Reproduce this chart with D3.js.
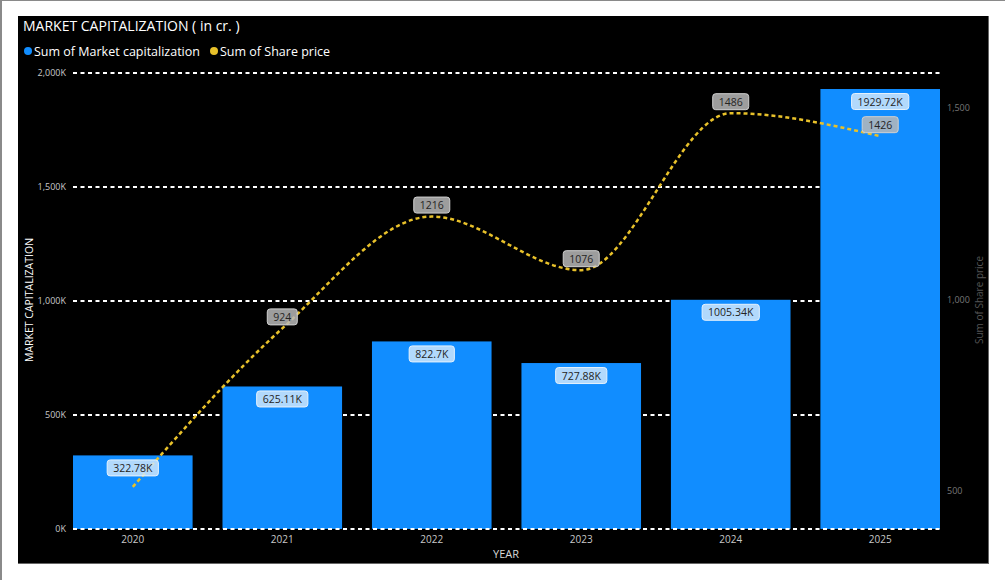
<!DOCTYPE html>
<html>
<head>
<meta charset="utf-8">
<script src="https://cdn.jsdelivr.net/npm/d3@7"></script>
<style>
  body { margin: 0; background: #fff; }
  svg { display: block; font-family: "Open Sans", "Noto Sans", sans-serif; }
</style>
</head>
<body>
<svg id="chart" width="1005" height="580"></svg>
<script>
"use strict";

// chart data
var years = ["2020", "2021", "2022", "2023", "2024", "2025"];
var marketCap = [322.78, 625.11, 822.7, 727.88, 1005.34, 1929.72]; // in K
var sharePrice = [510, 924, 1216, 1076, 1486, 1426];
var sharePriceLabelShown = [false, true, true, true, true, true];
var capTicks = [0, 500, 1000, 1500, 2000];
var priceTicks = [500, 1000, 1500];

var svg = d3.select("#chart");

// page frame
svg.append("rect").attr("x", 0).attr("y", 0).attr("width", 1005).attr("height", 580).attr("fill", "#fff");
svg.append("line").attr("x1", 1).attr("x2", 1).attr("y1", 0).attr("y2", 580).attr("stroke", "#8a8a8a").attr("stroke-width", 2);
svg.append("line").attr("x1", 0).attr("x2", 1005).attr("y1", 0.5).attr("y2", 0.5).attr("stroke", "#8a8a8a").attr("stroke-width", 1);
svg.append("rect").attr("x", 18).attr("y", 16).attr("width", 970).attr("height", 547).attr("fill", "#000");
svg.append("line").attr("x1", 988.5).attr("x2", 988.5).attr("y1", 16).attr("y2", 564).attr("stroke", "#666");
svg.append("line").attr("x1", 18).attr("x2", 989).attr("y1", 563.5).attr("y2", 563.5).attr("stroke", "#666");

// title + legend
svg.append("text")
  .attr("x", 23).attr("y", 31)
  .attr("fill", "#fff")
  .attr("font-size", 14)
  .text("MARKET CAPITALIZATION ( in cr. )");

var legend = [
  { name: "Sum of Market capitalization", color: "#118DFF", x: 28 },
  { name: "Sum of Share price", color: "#E8C12A", x: 214 }
];
legend.forEach(function(item) {
  svg.append("circle").attr("cx", item.x).attr("cy", 51).attr("r", 4).attr("fill", item.color);
  svg.append("text")
    .attr("x", item.x + 6).attr("y", 55.5)
    .attr("fill", "#fff")
    .attr("font-size", 12.5)
    .text(item.name);
});

// scales
var x = d3.scaleBand()
  .domain(years)
  .range([73, 940])
  .paddingInner(0.2)
  .paddingOuter(0);

var y = d3.scaleLinear().domain([0, 2000]).range([529, 73]);
var y2 = d3.scaleLinear().domain([400, 1591]).range([529, 73]);

var fmtK = function(v) { return d3.format(",")(v) + "K"; };

// grid
var grid = svg.append("g").attr("class", "grid");
grid.selectAll("line")
  .data(capTicks.filter(function(d) { return d > 0; }))
  .enter().append("line")
  .attr("x1", 73).attr("x2", 940)
  .attr("y1", function(d) { return y(d); })
  .attr("y2", function(d) { return y(d); })
  .attr("stroke", "#fff")
  .attr("stroke-width", 2)
  .attr("stroke-dasharray", "4,3.5");

// left axis
var leftAxis = svg.append("g")
  .attr("transform", "translate(73,0)")
  .call(d3.axisLeft(y).tickValues(capTicks).tickFormat(fmtK).tickSize(0).tickPadding(7));
leftAxis.select(".domain").remove();
leftAxis.selectAll("text").attr("fill", "#c8c8c8").attr("font-size", 9).attr("font-family", "Open Sans, sans-serif");

// right axis
var rightAxis = svg.append("g")
  .attr("transform", "translate(940,0)")
  .call(d3.axisRight(y2).tickValues(priceTicks).tickFormat(d3.format(",")).tickSize(0).tickPadding(7));
rightAxis.select(".domain").remove();
rightAxis.selectAll("text").attr("fill", "#777").attr("font-size", 9).attr("font-family", "Open Sans, sans-serif");

// bottom axis
var bottomAxis = svg.append("g")
  .attr("transform", "translate(0,529)")
  .call(d3.axisBottom(x).tickSize(0).tickPadding(7));
bottomAxis.select(".domain").remove();
bottomAxis.selectAll("text").attr("fill", "#c8c8c8").attr("font-size", 10).attr("font-family", "Open Sans, sans-serif");

// axis titles
svg.append("text")
  .attr("transform", "translate(33,300) rotate(-90)")
  .attr("text-anchor", "middle")
  .attr("fill", "#fff")
  .attr("font-size", 10.5)
  .text("MARKET CAPITALIZATION");

svg.append("text")
  .attr("x", 506).attr("y", 558)
  .attr("text-anchor", "middle")
  .attr("fill", "#d8d8d8")
  .attr("font-size", 11)
  .text("YEAR");

svg.append("text")
  .attr("transform", "translate(983,300) rotate(-90)")
  .attr("text-anchor", "middle")
  .attr("fill", "#555")
  .attr("font-size", 10)
  .text("Sum of Share price");

// bars
var bars = years.map(function(d, i) { return { year: d, value: marketCap[i] }; });
svg.append("g").selectAll("rect")
  .data(bars)
  .enter().append("rect")
  .attr("x", function(d) { return x(d.year); })
  .attr("y", function(d) { return y(d.value); })
  .attr("width", x.bandwidth())
  .attr("height", function(d) { return y(0) - y(d.value); })
  .attr("fill", "#118DFF");

// zero line on top of bars
svg.append("line")
  .attr("x1", 73).attr("x2", 940)
  .attr("y1", y(0)).attr("y2", y(0))
  .attr("stroke", "#fff")
  .attr("stroke-width", 2)
  .attr("stroke-dasharray", "4,3.5");

// data label helper
function addLabel(g, cx, cy, txt, fill, stroke) {
  var t = g.append("text")
    .attr("x", cx).attr("y", cy + 4)
    .attr("text-anchor", "middle")
    .attr("font-size", 10.5)
    .attr("fill", "#252423")
    .text(txt);
  var w = t.node().getComputedTextLength() + 12;
  g.insert("rect", function() { return t.node(); })
    .attr("x", cx - w / 2).attr("y", cy - 8)
    .attr("width", w).attr("height", 16)
    .attr("rx", 3).attr("ry", 3)
    .attr("fill", fill)
    .attr("fill-opacity", 0.85)
    .attr("stroke", stroke);
}

// line
var pts = years.map(function(d, i) { return { year: d, value: sharePrice[i], show: sharePriceLabelShown[i] }; });
var line = d3.line()
  .x(function(d) { return x(d.year) + x.bandwidth() / 2; })
  .y(function(d) { return y2(d.value); })
  .curve(d3.curveMonotoneX);

svg.append("path")
  .datum(pts)
  .attr("d", line)
  .attr("fill", "none")
  .attr("stroke", "#E8C12A")
  .attr("stroke-width", 2.5)
  .attr("stroke-dasharray", "4,3");

// bar labels
var barLabels = svg.append("g");
bars.forEach(function(d) {
  var g = barLabels.append("g");
  addLabel(g, x(d.year) + x.bandwidth() / 2, y(d.value) + 12.5, d.value + "K", "#cfe6fc", "#e6f2fd");
});

// line labels
var lineLabels = svg.append("g");
pts.forEach(function(d) {
  if (!d.show) return;
  var g = lineLabels.append("g");
  addLabel(g, x(d.year) + x.bandwidth() / 2, y2(d.value) - 11.5, d.value, "#b8b8b8", "#d0d0d0");
});
</script>
</body>
</html>
